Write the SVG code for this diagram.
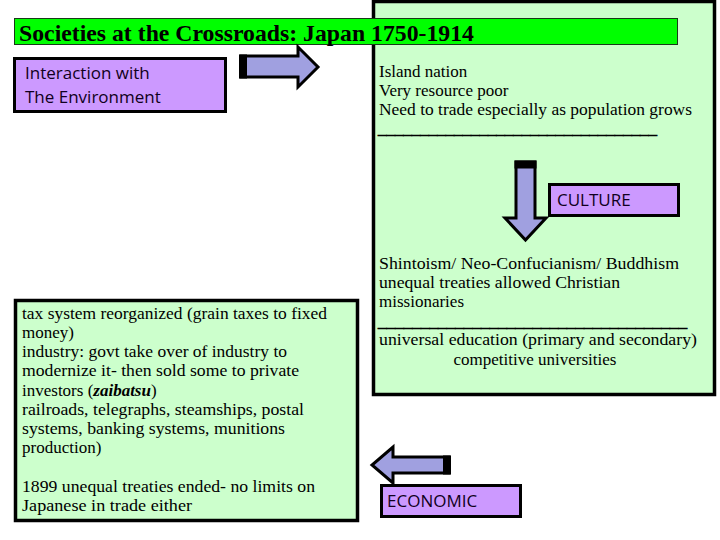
<svg xmlns="http://www.w3.org/2000/svg" width="720" height="540" viewBox="0 0 720 540">
<style>
.bg{fill:#ffffff}
.green{fill:#ccffcc;stroke:#000;stroke-width:3.5}
.purple{fill:#cc99ff;stroke:#000;stroke-width:3}
.arrow{fill:#a0a0e0;stroke:#000;stroke-width:3;stroke-linejoin:miter}
.serif{font-family:"Liberation Serif","Times New Roman",serif;font-size:17px;fill:#000}
.rule{font-family:"Liberation Serif","Times New Roman",serif;font-size:12px;font-weight:bold;fill:#000;stroke:#000;stroke-width:0.5}
.sans{font-family:"Open Sans","DejaVu Sans",sans-serif;font-size:17px;fill:#100020}
.title{font-family:"Liberation Serif","Times New Roman",serif;font-size:23px;font-weight:bold;fill:#000}
</style>
<rect class="bg" x="0" y="0" width="720" height="540"/>
<g id="culture-panel">
<rect class="green" x="373.5" y="1.5" width="341" height="393"/>
<text class="serif" x="379" y="77">Island nation</text>
<text class="serif" x="379" y="96">Very resource poor</text>
<text class="serif" x="379" y="115" textLength="313" lengthAdjust="spacingAndGlyphs">Need to trade especially as population grows</text>
<text class="rule" x="378" y="134" textLength="279" lengthAdjust="spacingAndGlyphs">_________________________________</text>
<text class="serif" x="379" y="269" textLength="300" lengthAdjust="spacingAndGlyphs">Shintoism/ Neo-Confucianism/ Buddhism</text>
<text class="serif" x="379" y="288" textLength="241" lengthAdjust="spacingAndGlyphs">unequal treaties allowed Christian</text>
<text class="serif" x="379" y="307">missionaries</text>
<text class="rule" x="378" y="327" textLength="309" lengthAdjust="spacingAndGlyphs">____________________________________</text>
<text class="serif" x="379" y="345" textLength="318" lengthAdjust="spacingAndGlyphs">universal education (primary and secondary)</text>
<text class="serif" x="535" y="365" text-anchor="middle">competitive universities</text>
</g>
<g id="title">
<rect x="14.5" y="18.5" width="663" height="26" fill="#00ff00" stroke="#1a3a1a" stroke-width="1"/>
<text class="title" x="19" y="41" textLength="455" lengthAdjust="spacingAndGlyphs">Societies at the Crossroads: Japan 1750-1914</text>
</g>
<g id="environment">
<rect class="purple" x="14.5" y="58.5" width="211" height="53"/>
<text class="sans" x="25" y="79">Interaction with</text>
<text class="sans" x="25" y="103">The Environment</text>
</g>
<g id="culture-label">
<rect class="purple" x="549.5" y="184.5" width="129" height="31"/>
<text class="sans" x="557" y="206">CULTURE</text>
</g>
<g id="economic-panel">
<rect class="green" x="15.5" y="300.5" width="342" height="220"/>
<text class="serif" x="22" y="319" textLength="305" lengthAdjust="spacingAndGlyphs">tax system reorganized (grain taxes to fixed</text>
<text class="serif" x="22" y="338">money)</text>
<text class="serif" x="22" y="357" textLength="265" lengthAdjust="spacingAndGlyphs">industry: govt take over of industry to</text>
<text class="serif" x="22" y="376" textLength="277" lengthAdjust="spacingAndGlyphs">modernize it- then sold some to private</text>
<text class="serif" x="22" y="396">investors (<tspan font-weight="bold" font-style="italic">zaibatsu</tspan>)</text>
<text class="serif" x="22" y="415" textLength="282" lengthAdjust="spacingAndGlyphs">railroads, telegraphs, steamships, postal</text>
<text class="serif" x="22" y="434" textLength="263" lengthAdjust="spacingAndGlyphs">systems, banking systems, munitions</text>
<text class="serif" x="22" y="453">production)</text>
<text class="serif" x="22" y="492" textLength="293" lengthAdjust="spacingAndGlyphs">1899 unequal treaties ended- no limits on</text>
<text class="serif" x="22" y="511" textLength="170" lengthAdjust="spacingAndGlyphs">Japanese in trade either</text>
</g>
<g id="economic-label">
<rect class="purple" x="381.5" y="485.5" width="139" height="31"/>
<text class="sans" x="387" y="507">ECONOMIC</text>
</g>
<g id="connectors">
<polygon class="arrow" points="241,56 298,56 298,47 318,67 298,87 298,77 241,77"/>
<rect x="239" y="54.5" width="8" height="24" fill="#000"/>
<polygon class="arrow" points="516,162 535,162 535,218 546,218 525.5,240 505,218 516,218"/>
<rect x="514.5" y="160.5" width="22" height="8" fill="#000"/>
<polygon class="arrow" points="449,457 393,457 393,447 372,465 393,483 393,473 449,473"/>
<rect x="443" y="455.5" width="8" height="19" fill="#000"/>
</g>
</svg>
